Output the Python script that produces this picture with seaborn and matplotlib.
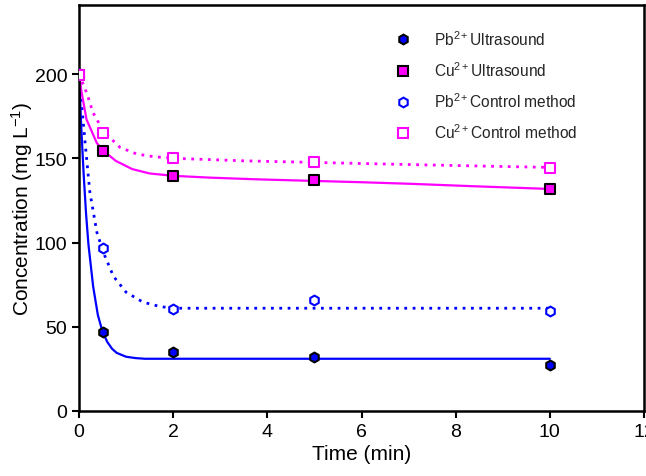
import matplotlib
matplotlib.use("Agg")
import matplotlib.pyplot as plt
from matplotlib.lines import Line2D
import seaborn as sns
import pandas as pd

# measured data
time_pts = [0, 0.5, 2, 5, 10]
pb_us = [200, 47, 35, 32, 27.5]
cu_us = [199.5, 154.5, 139.5, 137, 131.5]
pb_ctrl = [200, 96.5, 60.5, 66, 59.5]
cu_ctrl = [199.5, 165, 150, 148, 144.5]

# fitted curves
fit_pb_us_t = [0, 0.05, 0.1, 0.15, 0.2, 0.3, 0.4, 0.5, 0.6, 0.7, 0.8, 1.0, 1.2, 1.4, 10]
fit_pb_us_y = [200, 167, 140, 117, 99, 74, 57, 47, 41, 37, 34.5, 32.2, 31.4, 31, 31]
fit_pb_ctrl_t = [0, 0.06, 0.13, 0.23, 0.38, 0.52, 0.73, 1.0, 1.36, 1.72, 2.0, 10]
fit_pb_ctrl_y = [200, 181, 159, 130, 106, 94, 80, 70.5, 64.6, 62, 61, 61]
fit_cu_us_t = [0, 0.05, 0.16, 0.38, 0.52, 0.78, 1.13, 1.5, 2.0, 2.8, 3.8, 6.0, 7.1, 8.3, 9.3, 10]
fit_cu_us_y = [200, 190, 173, 159, 154.5, 148.5, 143.6, 141, 139.6, 138.5, 137.5, 135.8, 134.8, 133.5, 132.5, 131.8]
fit_cu_ctrl_t = [0, 0.16, 0.3, 0.52, 0.87, 1.23, 1.58, 2, 3.5, 7, 8.9, 10]
fit_cu_ctrl_y = [200, 189, 177, 166, 156.5, 152.5, 151, 150, 148.5, 146.3, 145.2, 144.6]

labels = ["Pb$^{2+}$Ultrasound", "Cu$^{2+}$Ultrasound",
          "Pb$^{2+}$Control method", "Cu$^{2+}$Control method"]

sns.set_theme(style="ticks")
plt.rcParams['font.family'] = ['Liberation Sans', 'DejaVu Sans']
plt.rcParams['mathtext.fontset'] = 'custom'
plt.rcParams['mathtext.rm'] = 'Liberation Sans'
plt.rcParams['mathtext.it'] = 'Liberation Sans:italic'
plt.rcParams['mathtext.bf'] = 'Liberation Sans:bold'
plt.rcParams['mathtext.default'] = 'regular'

BLUE = "#0000FF"
MAG = "#FF00FF"

fig = plt.figure(figsize=(6.46, 4.77), dpi=100)
ax = fig.add_axes([0.1223, 0.1363, 0.8746, 0.8511])

def curve(t, y, color, ls, lw):
    df = pd.DataFrame({"t": t, "y": y})
    sns.lineplot(data=df, x="t", y="y", ax=ax, color=color, linestyle=ls,
                 linewidth=lw, sort=False, estimator=None)

curve(fit_pb_ctrl_t, fit_pb_ctrl_y, BLUE, (0, (1, 2)), 2.0)
curve(fit_cu_ctrl_t, fit_cu_ctrl_y, MAG, (0, (1, 2)), 2.0)
curve(fit_pb_us_t, fit_pb_us_y, BLUE, "-", 1.6)
curve(fit_cu_us_t, fit_cu_us_y, MAG, "-", 1.6)

styles = [
    (pb_us, "h", BLUE, "black"),
    (cu_us, "s", MAG, "black"),
    (pb_ctrl, "h", "white", BLUE),
    (cu_ctrl, "s", "white", MAG),
]
handles = []
for (vals, m, fc, ec), lab in zip(styles, labels):
    df = pd.DataFrame({"t": time_pts, "y": vals})
    sns.scatterplot(data=df, x="t", y="y", ax=ax, marker=m, s=50,
                    facecolor=fc, edgecolor=ec, linewidth=1.5, zorder=5)
    handles.append(Line2D([], [], marker=m, linestyle="none", markersize=7,
                          markerfacecolor=fc, markeredgecolor=ec,
                          markeredgewidth=1.5, label=lab))

ax.set_xlim(0, 12)
ax.set_ylim(0, 241)
ax.set_xticks([0, 2, 4, 6, 8, 10, 12])
ax.set_yticks([0, 50, 100, 150, 200])
ax.set_xlabel("Time (min)", fontsize=15, color="black", labelpad=3)
ax.set_ylabel("Concentration (mg L$^{-1}$)", fontsize=15, color="black", labelpad=0)
ax.tick_params(direction="out", length=5, width=1.5, labelsize=14, colors="black")
for sp in ax.spines.values():
    sp.set_linewidth(1.8)
    sp.set_color("black")

ax.legend(handles=handles, loc="upper left", bbox_to_anchor=(0.535, 0.975),
          frameon=False, fontsize=11.2, handlelength=1.0, handletextpad=1.5,
          labelspacing=0.8)

fig.savefig("out.png", dpi=100)
